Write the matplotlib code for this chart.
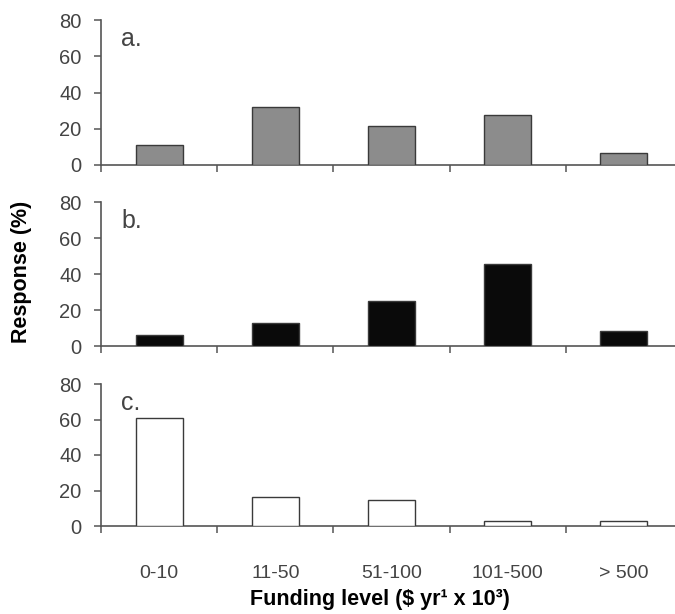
import matplotlib
matplotlib.use("Agg")
import matplotlib.pyplot as plt
import numpy as np

categories = ["0-10", "11-50", "51-100", "101-500", "> 500"]
panel_a = [11, 32, 21.5, 27.4, 6.4]
panel_b = [6, 12.9, 25, 45.8, 8.5]
panel_c = [60.6, 16.2, 14.9, 3, 3]
panel_labels = ["a.", "b.", "c."]
yticks = [0, 20, 40, 60, 80]

plt.rcParams['font.family'] = ['Liberation Sans Narrow', 'Liberation Sans', 'DejaVu Sans']

fig = plt.figure(figsize=(6.75, 6.14), dpi=100)
W, H = 675, 614
left = 101 / W
width = (682 - 101) / W
rows = [(20, 165), (202, 346), (384, 526)]
series = [panel_a, panel_b, panel_c]
fills = ["#8c8c8c", "#0a0a0a", "#ffffff"]
axcol = "#555555"

x = np.arange(len(categories))
for i, (vals, (top, bot)) in enumerate(zip(series, rows)):
    ax = fig.add_axes([left, 1 - bot / H, width, (bot - top) / H])
    ax.bar(x, vals, width=0.405, color=fills[i], edgecolor="#3a3a3a", linewidth=1.0, zorder=3)
    ax.set_xlim(-0.5, len(categories) - 0.5)
    ax.set_ylim(0, 80)
    ax.set_yticks(yticks)
    ax.spines['top'].set_visible(False)
    ax.spines['right'].set_visible(False)
    for s in ['left', 'bottom']:
        ax.spines[s].set_color(axcol)
        ax.spines[s].set_linewidth(1.2)
    ax.tick_params(axis='y', direction='out', length=5, width=1.1, color=axcol,
                   labelcolor="#444444", labelsize=14.5, pad=9)
    ax.set_xticks(x)
    ax.set_xticks(np.arange(len(categories)) - 0.5, minor=True)
    ax.tick_params(axis='x', which='minor', direction='out', length=5, width=1.1, color=axcol)
    ax.tick_params(axis='x', which='major', length=0, labelcolor="#444444", labelsize=14, pad=28)
    if i < 2:
        ax.set_xticklabels([])
    else:
        ax.set_xticklabels(categories)
    ax.text(0.035, 0.95, panel_labels[i], transform=ax.transAxes, fontsize=18,
            color="#444444", va='top', ha='left')

fig.text(22 / W, 1 - 272 / H, "Response (%)", rotation=90, ha='center', va='center',
         fontsize=15.5, fontweight='bold', family=['Liberation Sans', 'DejaVu Sans'])
fig.text(380 / W, 1 - 600 / H, "Funding level ($ yr\u00b9 x 10\u00b3)", ha='center', va='center',
         fontsize=15.5, fontweight='bold', family=['Liberation Sans', 'DejaVu Sans'])

fig.savefig("out.png", dpi=100)
